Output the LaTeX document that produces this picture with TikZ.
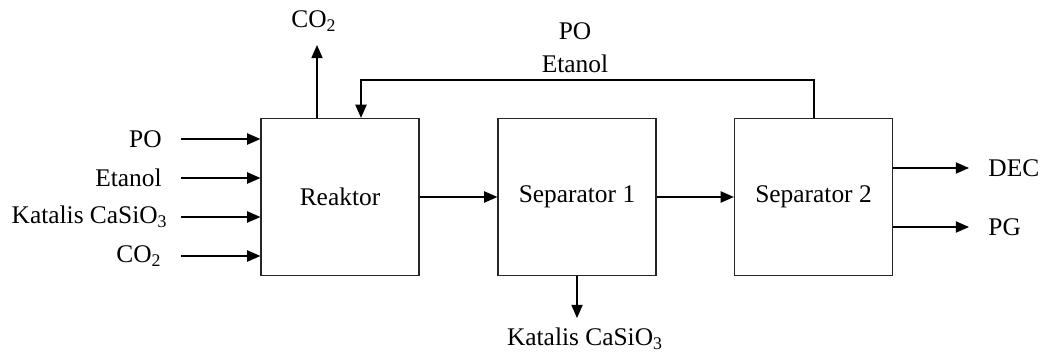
\documentclass[tikz,border=0pt]{standalone}
\usepackage{fontspec}
\setmainfont{Liberation Serif}
\usetikzlibrary{arrows.meta}
\begin{document}
\begin{tikzpicture}[x=0.5pt,y=-0.5pt,
  font=\fontsize{12.7}{15}\selectfont,
  unitbox/.style={draw=black!85,line width=0.6pt,minimum width=79pt,minimum height=78.5pt,inner sep=0pt},
  flow/.style={line width=0.75pt,-{Triangle[length=6.6pt,width=5.6pt]}},
  lbl/.style={inner sep=0pt}]
\useasboundingbox (0,0) rectangle (1047,353);
% boxes
\node[unitbox] (rk) at (340,197) {Reaktor};
\node[unitbox] (s1) at (577,197) {Separator 1};
\node[unitbox] (s2) at (813.5,197) {Separator 2};
% input labels
\node[lbl,anchor=east] (iPO) at (162,139) {PO};
\node[lbl,anchor=east] (iEt) at (162,178) {Etanol};
\node[lbl,anchor=east] (iKa) at (168,217) {Katalis CaSiO\textsubscript{3}};
\node[lbl,anchor=east] (iCO) at (162,256) {CO\textsubscript{2}};
\coordinate (aPO) at (181,139);
\coordinate (aEt) at (181,178);
\coordinate (aKa) at (181,217);
\coordinate (aCO) at (181,256);
\draw[flow] (aPO) -- (aPO -| rk.west);
\draw[flow] (aEt) -- (aEt -| rk.west);
\draw[flow] (aKa) -- (aKa -| rk.west);
\draw[flow] (aCO) -- (aCO -| rk.west);
% CO2 out
\coordinate (co2e) at (317,45);
\node[lbl] (oCO) at (314,21) {CO\textsubscript{2}};
\draw[flow] (co2e |- rk.north) -- (co2e);
% recycle
\coordinate (rcs) at (814,80);
\coordinate (rce) at (361,80);
\draw[flow] (rcs |- s2.north) -- (rcs) -- (rce) -- (rce |- rk.north);
\node[lbl] (rPO) at (575,31) {PO};
\node[lbl] (rEt) at (575,64) {Etanol};
% main flow
\draw[flow] (rk.east) -- (s1.west);
\draw[flow] (s1.east) -- (s2.west);
% outputs
\node[lbl,anchor=west] (oDEC) at (988,168) {DEC};
\node[lbl,anchor=west] (oPG) at (988,227) {PG};
\coordinate (eDEC) at (969,168);
\coordinate (ePG) at (969,227);
\draw[flow] (eDEC -| s2.east) -- (eDEC);
\draw[flow] (ePG -| s2.east) -- (ePG);
% catalyst out
\coordinate (kae) at (577,318);
\node[lbl] (oKa) at (585,339) {Katalis CaSiO\textsubscript{3}};
\draw[flow] (s1.south) -- (kae);
\end{tikzpicture}
\end{document}
